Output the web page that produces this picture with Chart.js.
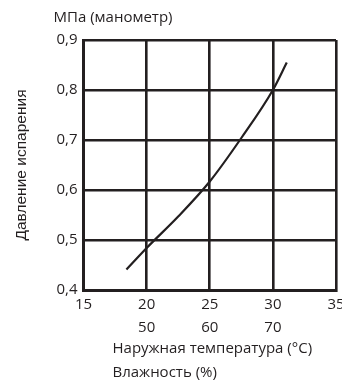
<!DOCTYPE html>
<html>
<head>
<meta charset="utf-8">
<script src="https://cdn.jsdelivr.net/npm/chart.js@4/dist/chart.umd.min.js"></script>
<style>
  html, body { margin: 0; padding: 0; background: #fff; }
  #wrap { width: 342px; height: 380px; }
</style>
</head>
<body>
<div id="wrap"><canvas id="grafico"></canvas></div>
<script>
// curva de presion de evaporacion
const temperatura = [18.4, 20, 22.5, 25, 27.5, 30, 31.1];
const presion = [0.441, 0.484, 0.547, 0.617, 0.704, 0.80, 0.855];

// etiquetas del eje x: temperatura y humedad debajo
const ticksTemp = [15, 20, 25, 30, 35];
const ticksHumedad = [null, 50, 60, 70, null];

const tituloY = 'Давление испарения';
const unidadY = 'МПа (манометр)';
const tituloX = ['Наружная температура (°C)', 'Влажность (%)'];

const tinta = '#231f20';
const fuente = "'Open Sans', sans-serif";

// textos sueltos: unidad arriba y titulos del eje x alineados a la izquierda
const textos = {
  id: 'textos',
  afterDraw(chart) {
    const ctx = chart.ctx;
    const area = chart.chartArea;
    ctx.save();
    ctx.fillStyle = tinta;
    ctx.font = '15px ' + fuente;
    ctx.textAlign = 'left';
    ctx.textBaseline = 'middle';
    ctx.fillText(unidadY, area.left - 30, 18);
    tituloX.forEach((t, i) => {
      ctx.fillText(t, area.left + 29, 349 + i * 24);
    });
    ctx.restore();
  }
};

document.addEventListener('DOMContentLoaded', () => {
  const canvas = document.getElementById('grafico');
  new Chart(canvas.getContext('2d'), {
    type: 'scatter',
    data: {
      datasets: [{
        data: temperatura.map((t, i) => ({ x: t, y: presion[i] })),
        showLine: true,
        borderColor: tinta,
        borderWidth: 2.2,
        pointRadius: 0,
        cubicInterpolationMode: 'monotone'
      }]
    },
    options: {
      responsive: true,
      maintainAspectRatio: false,
      animation: false,
      layout: { padding: { top: 40, right: 6, left: 12, bottom: 0 } },
      plugins: { legend: { display: false }, tooltip: { enabled: false } },
      scales: {
        x: {
          type: 'linear',
          min: 15,
          max: 35,
          afterBuildTicks(scale) {
            scale.ticks = ticksTemp.map(v => ({ value: v }));
          },
          afterFit(scale) {
            scale.height = 90;
            scale.paddingLeft = 0;
            scale.paddingRight = 0;
          },
          grid: { color: tinta, lineWidth: 2.6, drawTicks: false },
          border: { color: tinta, width: 3 },
          ticks: {
            color: tinta,
            padding: 3,
            font: { family: fuente, size: 15, lineHeight: 1.53 },
            maxRotation: 0,
            callback(v) {
              const i = ticksTemp.indexOf(v);
              return ticksHumedad[i] != null ? [String(v), String(ticksHumedad[i])] : String(v);
            }
          }
        },
        y: {
          min: 0.4,
          max: 0.9,
          afterFit(scale) { scale.width = 71.5; },
          grid: { color: tinta, lineWidth: 2.6, drawTicks: false },
          border: { color: tinta, width: 3 },
          ticks: {
            stepSize: 0.1,
            color: tinta,
            padding: 6,
            font: { family: fuente, size: 15 },
            callback: v => v.toFixed(1).replace('.', ',')
          },
          title: {
            display: true,
            text: tituloY,
            color: tinta,
            padding: { top: 0, bottom: 5 },
            font: { family: "'Liberation Sans', Arial, sans-serif", size: 15.5 }
          }
        }
      }
    },
    plugins: [textos]
  });
});
</script>
</body>
</html>
